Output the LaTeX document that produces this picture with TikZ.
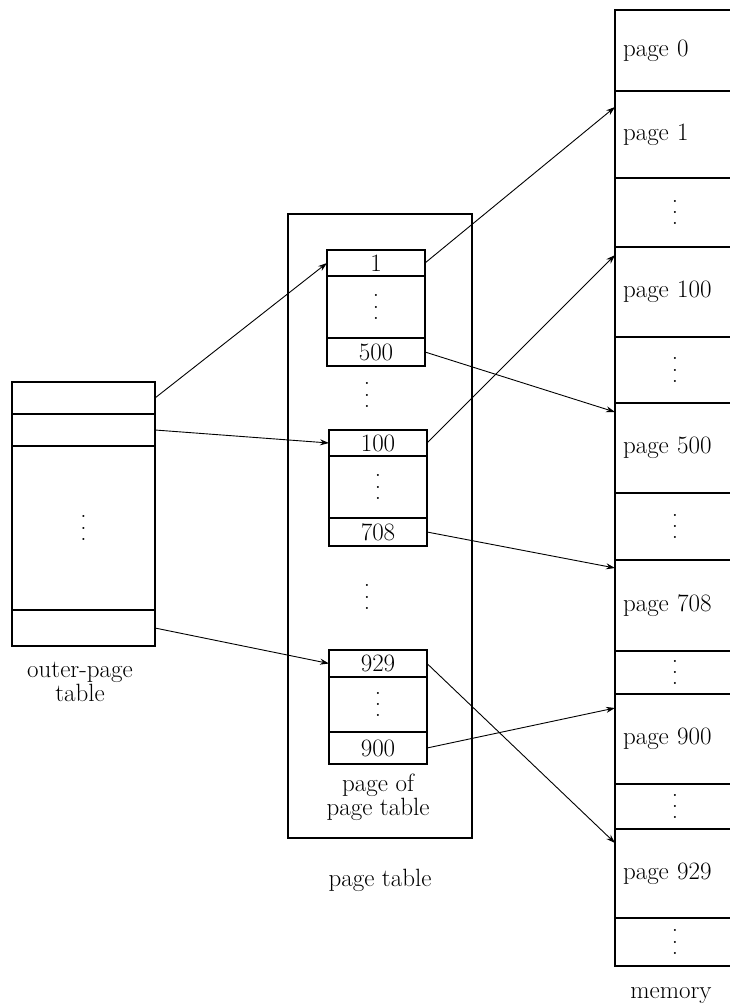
\documentclass[tikz,border=0pt]{standalone}
\usetikzlibrary{arrows.meta, positioning}
\newcommand{\coldots}{\vbox{\baselineskip=0.45em\lineskiplimit=0pt\hbox{.}\hbox{.}\hbox{.}}}

\begin{document}
\begin{tikzpicture}[
    x=1pt, y=-1pt,
    every node/.style={font=\fontsize{25}{22}\selectfont, inner sep=0pt, outer sep=0pt},
    otcell/.style={draw, line width=1.6pt, minimum width=143pt},
    pgcell/.style={draw, line width=1.6pt, minimum width=98pt},
    memcell/.style={draw, line width=1.6pt, text width=104pt, inner xsep=8pt, align=left},
    memdots/.style={memcell, align=center},
    ptr/.style={-{Stealth[length=9pt, width=6pt]}, line width=0.9pt}
]
\useasboundingbox (0,0) rectangle (729,1006);

% outer-page table
\node[otcell, minimum height=32pt, anchor=north west] (ot1) at (12,382) {};
\node[otcell, minimum height=32pt, below=0pt of ot1] (ot2) {};
\node[otcell, minimum height=164pt, below=0pt of ot2] (otd) {\coldots};
\node[otcell, minimum height=36pt, below=0pt of otd] (otn) {};
\node[align=center] (otlabel) at (80,682) {outer-page\\table};

% page table
\node[draw, line width=1.6pt, minimum width=184pt, minimum height=624pt, anchor=north west] (ptab) at (288,214) {};
\node (ptlabel) at (380,880) {page table};

\node[pgcell, minimum height=26pt, anchor=north west] (pa1) at (327,250) {1};
\node[pgcell, minimum height=62pt, below=0pt of pa1] (pad) {\coldots};
\node[pgcell, minimum height=28pt, below=0pt of pad] (pa500) {500};
\node (gap1) at (367,395) {\coldots};

\node[pgcell, minimum height=26pt, anchor=north west] (pb100) at (329,430) {100};
\node[pgcell, minimum height=62pt, below=0pt of pb100] (pbd) {\coldots};
\node[pgcell, minimum height=28pt, below=0pt of pbd] (pb708) {708};
\node (gap2) at (367,597) {\coldots};

\node[pgcell, minimum height=27pt, anchor=north west] (pc929) at (329,650) {929};
\node[pgcell, minimum height=55pt, below=0pt of pc929] (pcd) {\coldots};
\node[pgcell, minimum height=32pt, below=0pt of pcd] (pc900) {900};
\node[align=center, below=10pt of pc900] (pglabel) {page of\\page table};

% memory
\node[memcell, minimum height=81pt, anchor=north west] (m0) at (615,10) {page 0};
\node[memcell, minimum height=87pt, below=0pt of m0] (m1) {page 1};
\node[memdots, minimum height=69pt, below=0pt of m1] (md1) {\coldots};
\node[memcell, minimum height=90pt, below=0pt of md1] (m100) {page 100};
\node[memdots, minimum height=66pt, below=0pt of m100] (md2) {\coldots};
\node[memcell, minimum height=90pt, below=0pt of md2] (m500) {page 500};
\node[memdots, minimum height=67pt, below=0pt of m500] (md3) {\coldots};
\node[memcell, minimum height=91pt, below=0pt of md3] (m708) {page 708};
\node[memdots, minimum height=43pt, below=0pt of m708] (md4) {\coldots};
\node[memcell, minimum height=90pt, below=0pt of md4] (m900) {page 900};
\node[memdots, minimum height=45pt, below=0pt of m900] (md5) {\coldots};
\node[memcell, minimum height=89pt, below=0pt of md5] (m929) {page 929};
\node[memdots, minimum height=48pt, below=0pt of m929] (md6) {\coldots};
\node (memlabel) at (671,996) {memory};

% pointers
\draw[ptr] (ot1.east) -- (pa1.west);
\draw[ptr] (ot2.east) -- (pb100.west);
\draw[ptr] (otn.east) -- (pc929.west);
\draw[ptr] (pa1.east) -- ([yshift=-16pt]m1.north west);
\draw[ptr] (pa500.east) -- ([yshift=-9pt]m500.north west);
\draw[ptr] (pb100.east) -- ([yshift=-8pt]m100.north west);
\draw[ptr] (pb708.east) -- ([yshift=-8pt]m708.north west);
\draw[ptr] (pc900.east) -- ([yshift=-14pt]m900.north west);
\draw[ptr] (pc929.east) -- ([yshift=-14pt]m929.north west);
\end{tikzpicture}
\end{document}
